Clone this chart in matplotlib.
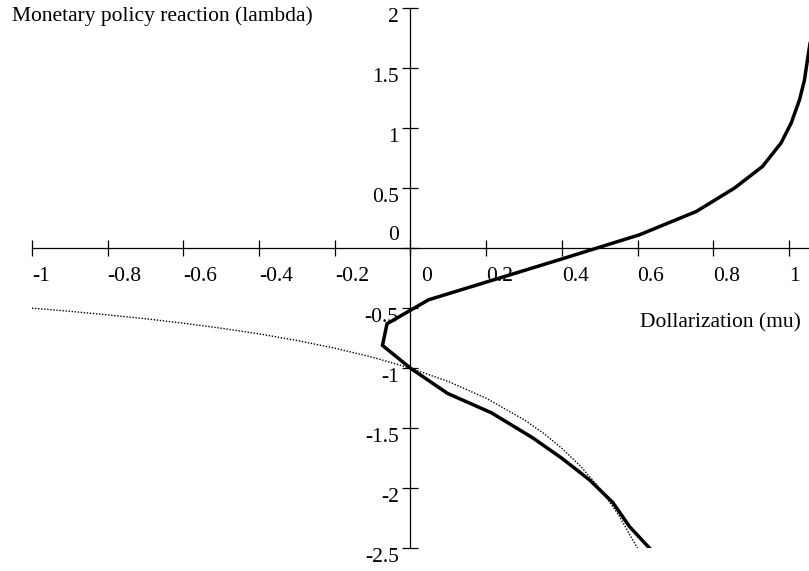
import matplotlib
matplotlib.use("Agg")
import matplotlib.pyplot as plt
import matplotlib.transforms as mtransforms

plt.rcParams['font.family'] = ['Liberation Serif', 'DejaVu Serif']

# Thick curve, ordered along the line
mu_thick = [1.066, 1.058, 1.049, 1.041, 1.028, 1.006, 0.979, 0.930, 0.856, 0.755,
            0.605, 0.40, 0.048, -0.062, -0.074, 0.0, 0.098, 0.213, 0.323, 0.40,
            0.473, 0.535, 0.579, 0.632]
lam_thick = [2.05, 1.75, 1.57, 1.40, 1.236, 1.042, 0.875, 0.68, 0.50, 0.305,
             0.111, -0.09, -0.43, -0.63, -0.81, -1.0, -1.21, -1.37, -1.58, -1.75,
             -1.93, -2.12, -2.32, -2.5]

# Dotted curve
mu_dot = [-1.0, -0.9, -0.8, -0.7, -0.6, -0.5, -0.4, -0.3, -0.2, -0.1, 0.0,
          0.1, 0.2, 0.3, 0.35, 0.4, 0.45, 0.5, 0.55, 0.6]
lam_dot = [-0.50, -0.526, -0.556, -0.588, -0.625, -0.667, -0.714, -0.769, -0.833,
           -0.909, -1.0, -1.111, -1.25, -1.429, -1.538, -1.667, -1.818, -2.0,
           -2.222, -2.5]

xticks = [-1, -0.8, -0.6, -0.4, -0.2, 0, 0.2, 0.4, 0.6, 0.8, 1]
xticklabels = ['-1', '-0.8', '-0.6', '-0.4', '-0.2', '0', '0.2', '0.4', '0.6', '0.8', '1']
yticks = [-2.5, -2, -1.5, -1, -0.5, 0, 0.5, 1, 1.5, 2]
yticklabels = ['-2.5', '-2', '-1.5', '-1', '-0.5', '0', '0.5', '1', '1.5', '2']

W, H = 809, 571
fig = plt.figure(figsize=(W / 100, H / 100), dpi=100)
ax = fig.add_axes([32 / W, (H - 548.3) / H, (W - 32) / W, 540.3 / H])
ax.set_xlim(-1, 1.053)
ax.set_ylim(-2.5, 2)

ax.plot(mu_dot, lam_dot, color='black', lw=1.0, linestyle=(0, (1, 1.2)))
ax.plot(mu_thick, lam_thick, color='black', lw=2.5, solid_joinstyle='miter')

for s in ['top', 'right']:
    ax.spines[s].set_visible(False)
ax.spines['left'].set_position(('data', 0))
ax.spines['bottom'].set_position(('data', 0))
for s in ['left', 'bottom']:
    ax.spines[s].set_linewidth(0.9)
    ax.spines[s].set_color('black')

fs = 15.5
ax.set_xticks(xticks)
ax.set_xticklabels(xticklabels, fontsize=fs)
ax.set_yticks(yticks)
ax.set_yticklabels(yticklabels, fontsize=fs)
ax.tick_params(axis='both', direction='inout', length=11, width=0.9, color='black')
ax.tick_params(axis='x', pad=8)
ax.tick_params(axis='y', pad=3)

for lab, txt in zip(ax.get_xticklabels(), xticklabels):
    lab.set_horizontalalignment('left')
    if txt == '0':
        lab.set_transform(lab.get_transform() +
                          mtransforms.ScaledTranslation(11 / 100, 0, fig.dpi_scale_trans))
for lab, txt in zip(ax.get_yticklabels(), yticklabels):
    if txt == '0':
        lab.set_verticalalignment('bottom')
        lab.set_transform(lab.get_transform() +
                          mtransforms.ScaledTranslation(0, 3 / 100, fig.dpi_scale_trans))
    else:
        lab.set_verticalalignment('top')

fig.text(12 / W, 1 - 6 / H, 'Monetary policy reaction (lambda)', fontsize=fs,
         ha='left', va='top')
fig.text(640 / W, 1 - 313 / H, 'Dollarization (mu)', fontsize=fs,
         ha='left', va='top')

fig.savefig('out.png', dpi=100)
